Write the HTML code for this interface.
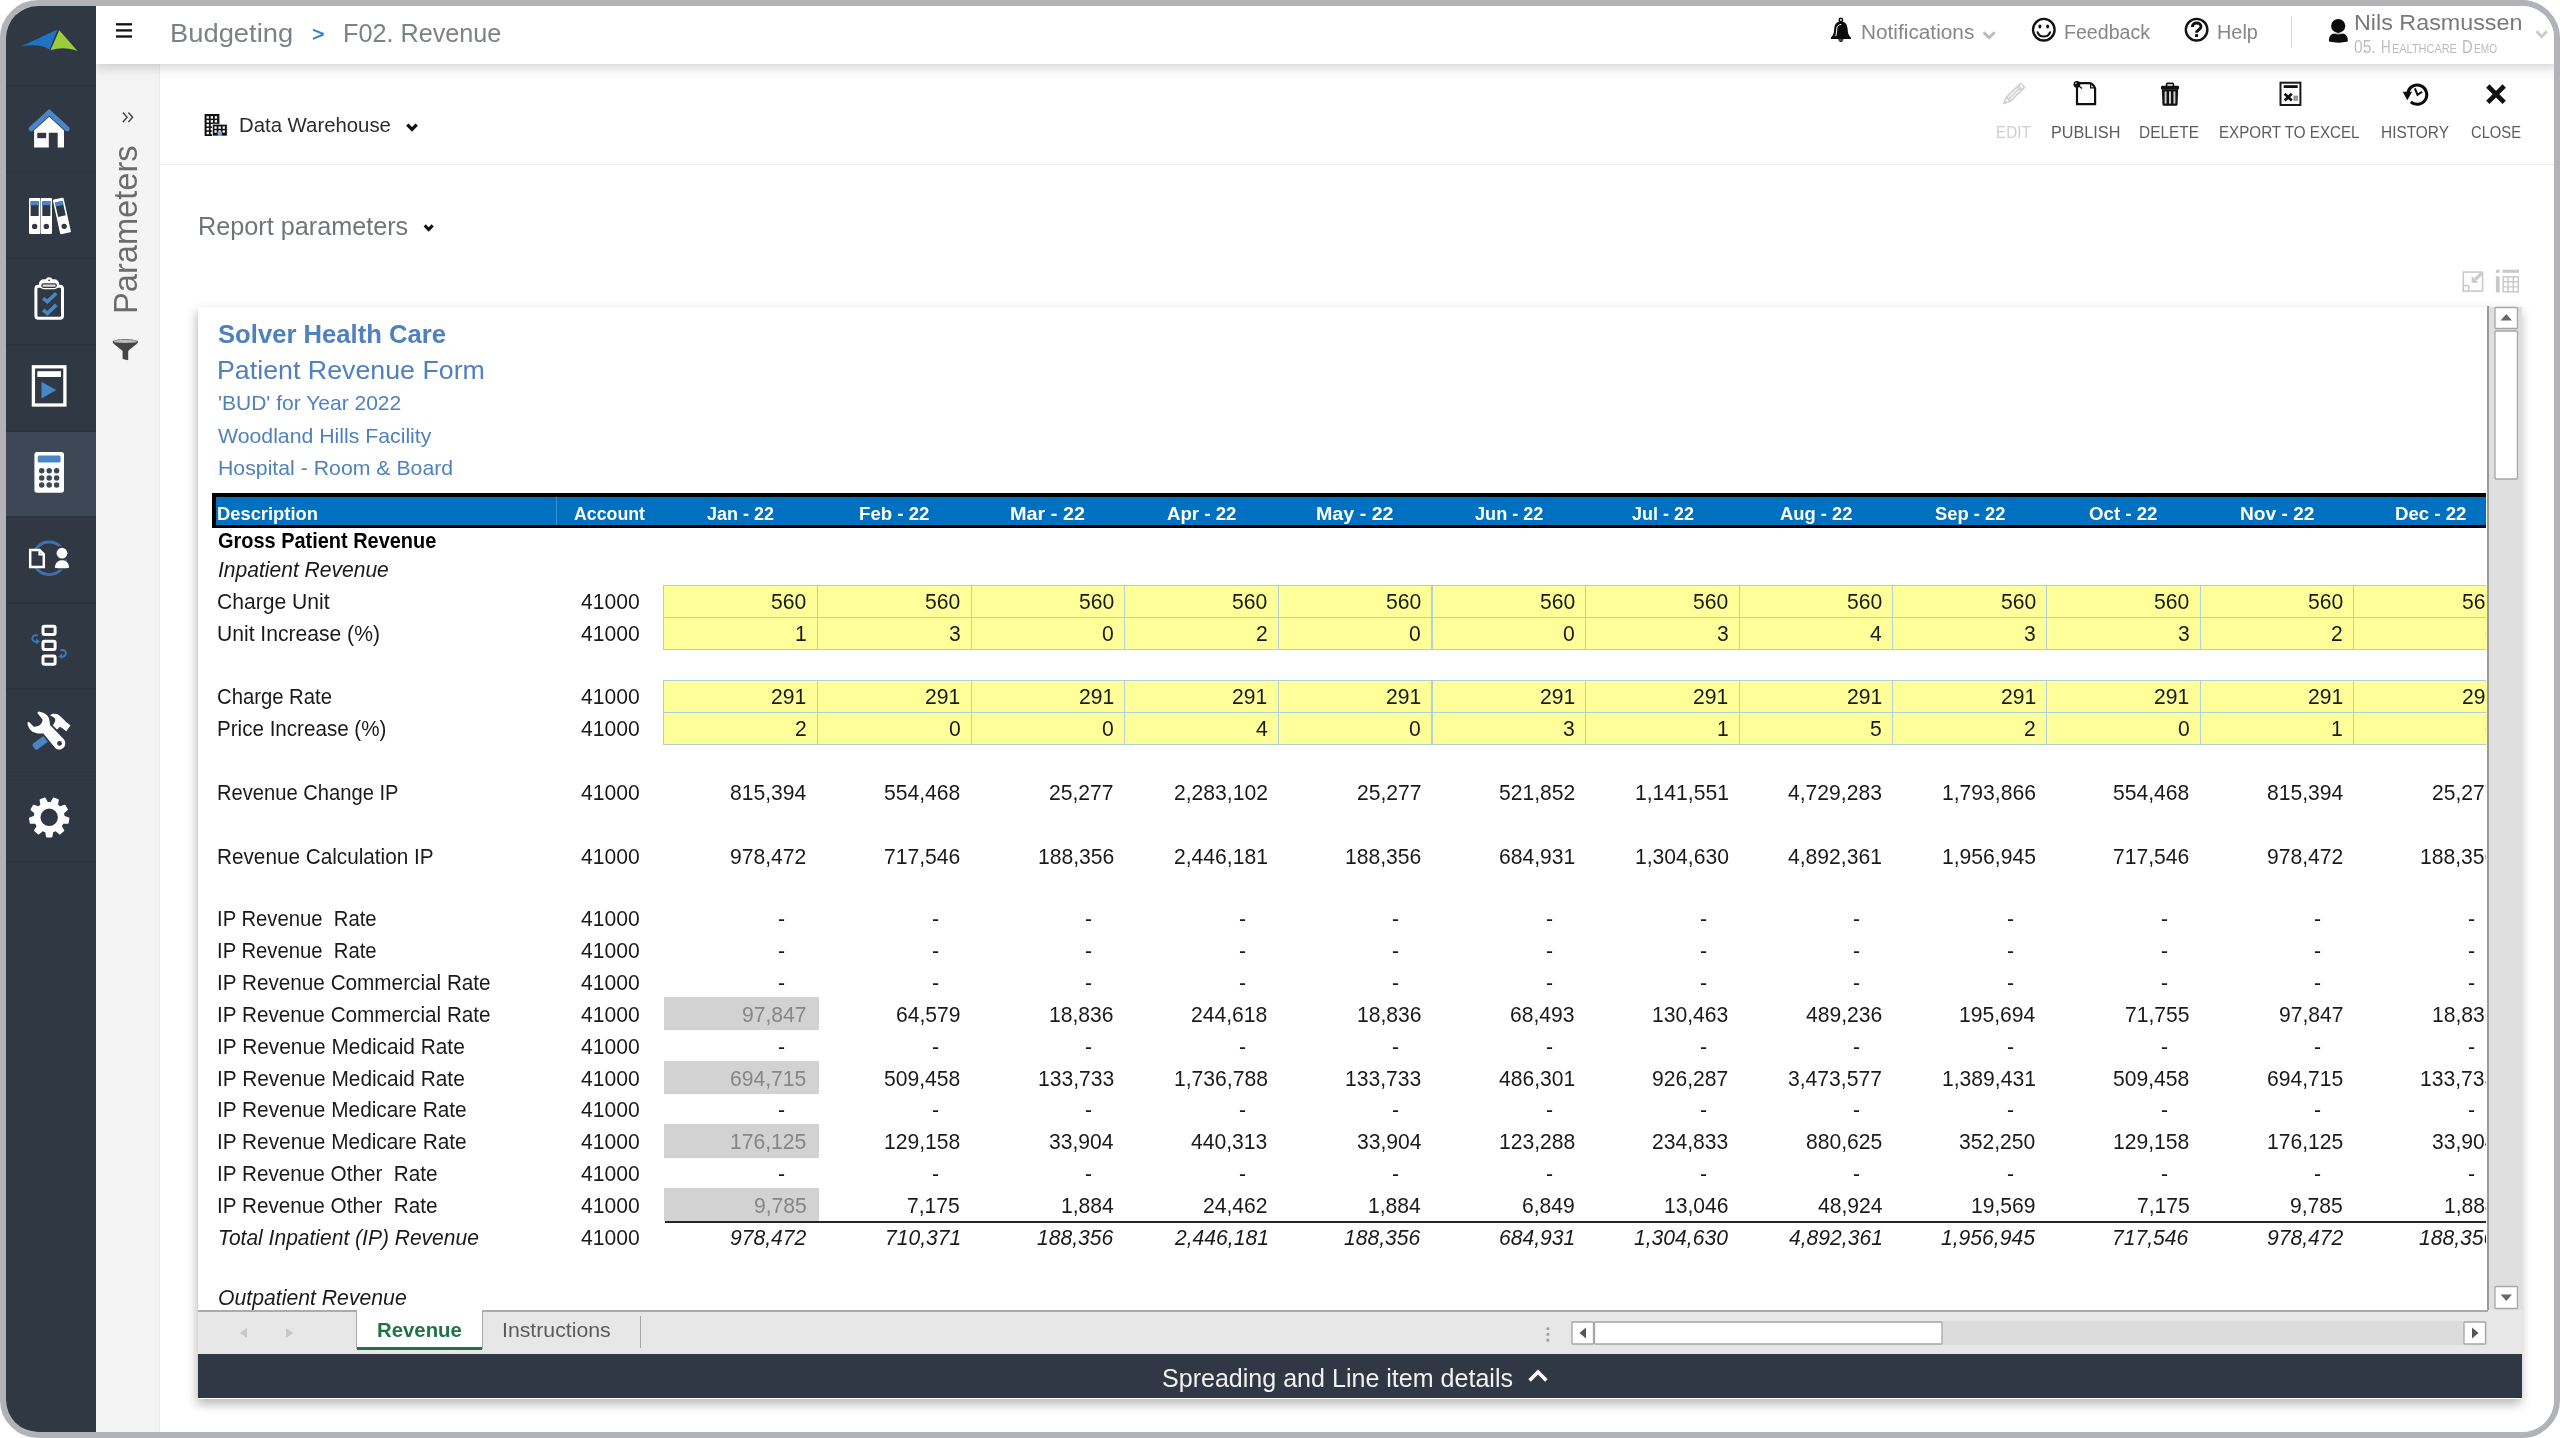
<!DOCTYPE html><html><head><meta charset="utf-8"><title>F02. Revenue</title><style>
html,body{margin:0;padding:0;background:#fff;}
body{width:2560px;height:1438px;overflow:hidden;position:relative;font-family:"Liberation Sans",sans-serif;}
#frame{position:absolute;left:0;top:0;width:2560px;height:1438px;box-sizing:border-box;border:6px solid #b1b3b9;border-radius:38px;overflow:hidden;background:#fff;}
#page{position:absolute;left:-6px;top:-6px;width:2560px;height:1438px;will-change:transform;}
.a{position:absolute;}
.t{position:absolute;white-space:pre;line-height:1;transform-origin:0 50%;font-family:"Liberation Sans",sans-serif;}
svg{position:absolute;overflow:visible;}
#side{left:0;top:0;width:96px;height:1438px;background:#303844;}
.sdiv{left:6px;width:90px;height:2px;background:#2c343f;}
#top{left:96px;top:0;width:2464px;height:64px;background:#fff;box-shadow:0 4px 11px rgba(0,0,0,.17);}
#params{left:96px;top:64px;width:63px;height:1374px;background:#f4f4f4;border-right:1px solid #ebebeb;}
#main{left:160px;top:64px;width:2400px;height:1374px;background:#fff;}
.hl{height:1px;background:#ececec;}
#sheet{left:198px;top:306.5px;width:2323.5px;height:1092px;background:#fff;box-shadow:-1px 5px 10px rgba(0,0,0,.29);}
#grid{left:198px;top:306.5px;width:2288px;height:1003.5px;overflow:hidden;background:#fff;}
#grid .in{position:absolute;left:-198px;top:-306.5px;width:2560px;height:1438px;}
.yc{position:absolute;background:#ffff99;box-sizing:border-box;border:1px solid #b3cfd6;}
.gc{position:absolute;background:#d2d2d2;}
</style></head><body><div id="frame"><div id="page">
<div id="main" class="a"></div>
<div id="params" class="a"></div>
<svg style="left:0;top:0" width="2560" height="1438" viewBox="0 0 2560 1438" ><rect x="204.6" y="114" width="14.8" height="22" fill="#111"/><rect x="206.6" y="116.2" width="2.3" height="2.4" fill="#fff"/><rect x="210.7" y="116.2" width="2.3" height="2.4" fill="#fff"/><rect x="214.8" y="116.2" width="2.3" height="2.4" fill="#fff"/><rect x="206.6" y="120.1" width="2.3" height="2.4" fill="#fff"/><rect x="210.7" y="120.1" width="2.3" height="2.4" fill="#fff"/><rect x="214.8" y="120.1" width="2.3" height="2.4" fill="#fff"/><rect x="206.6" y="124.0" width="2.3" height="2.4" fill="#fff"/><rect x="210.7" y="124.0" width="2.3" height="2.4" fill="#fff"/><rect x="214.8" y="124.0" width="2.3" height="2.4" fill="#fff"/><rect x="206.6" y="127.9" width="2.3" height="2.4" fill="#fff"/><rect x="210.7" y="127.9" width="2.3" height="2.4" fill="#fff"/><rect x="214.8" y="127.9" width="2.3" height="2.4" fill="#fff"/><rect x="206.6" y="131.8" width="2.3" height="2.4" fill="#fff"/><rect x="210.7" y="131.8" width="2.3" height="2.4" fill="#fff"/><rect x="214.8" y="131.8" width="2.3" height="2.4" fill="#fff"/><rect x="212.4" y="124.2" width="14.8" height="11.8" fill="#111" stroke="#fff" stroke-width="0.7"/><rect x="214.4" y="126.4" width="2.3" height="2.4" fill="#fff"/><rect x="218.5" y="126.4" width="2.3" height="2.4" fill="#fff"/><rect x="222.6" y="126.4" width="2.3" height="2.4" fill="#fff"/><rect x="214.4" y="130.3" width="2.3" height="2.4" fill="#fff"/><rect x="218.5" y="130.3" width="2.3" height="2.4" fill="#fff"/><rect x="222.6" y="130.3" width="2.3" height="2.4" fill="#fff"/><rect x="217.6" y="131.4" width="4.2" height="4.6" fill="#7fa8d6"/></svg>
<span class="t" style="left:239.01px;top:115.30px;font-size:20.5px;color:#2b2b2b;transform:scaleX(0.9923);">Data Warehouse</span>
<svg style="left:0;top:0" width="2560" height="1438" viewBox="0 0 2560 1438" ><path d="M407.3 124.7 L412 129.5 L416.7 124.7" fill="none" stroke="#111" stroke-width="3.3" stroke-linejoin="miter"/></svg>
<div class="a hl" style="left:160px;top:164px;width:2394px"></div>
<span class="t" style="left:198.18px;top:213.60px;font-size:25px;color:#70757b;transform:scaleX(1.0086);">Report parameters</span>
<svg style="left:0;top:0" width="2560" height="1438" viewBox="0 0 2560 1438" ><path d="M424.7 225.4 L428.7 229.5 L432.7 225.4" fill="none" stroke="#111" stroke-width="3" stroke-linejoin="miter"/></svg>
<svg style="left:0;top:0" width="2560" height="1438" viewBox="0 0 2560 1438" ><g transform="rotate(46 2013.4 94.3)"><rect x="2010.5" y="81.4" width="5.8" height="3.4" rx="1" fill="none" stroke="#d0d0d0" stroke-width="1.6"/><rect x="2010.5" y="85.8" width="5.8" height="15.4" fill="#f3f3f3" stroke="#d0d0d0" stroke-width="1.6"/><path d="M2013.4 85.8 V101.2" stroke="#d0d0d0" stroke-width="1.3"/><path d="M2010.5 101.2 L2013.4 107.6 L2016.3 101.2Z" fill="none" stroke="#d0d0d0" stroke-width="1.6" stroke-linejoin="round"/><path d="M2012.3 105.4 L2013.4 107.6 L2014.5 105.4Z" fill="#d0d0d0" stroke="#d0d0d0" stroke-width="1"/></g></svg>
<span class="t" style="left:1995.98px;top:124.00px;font-size:16.5px;color:#cfcfcf;transform:scaleX(0.9232);">EDIT</span>
<svg style="left:0;top:0" width="2560" height="1438" viewBox="0 0 2560 1438" ><path d="M2077 83.1 H2089.6 C2091.6 83.1 2095.1 86.6 2095.1 88.6 V104.2 H2077 Z" fill="#fff" stroke="#111" stroke-width="2.2" stroke-linejoin="miter"/><path d="M2090.6 83.6 V87.9 H2094.9" fill="none" stroke="#111" stroke-width="1.3"/><circle cx="2076.9" cy="84.3" r="3.4" fill="#111"/><circle cx="2075.9" cy="83.3" r="1" fill="#999"/><path d="M2077 84.4 L2082 88.6" stroke="#111" stroke-width="1.3"/></svg>
<span class="t" style="left:2051.22px;top:124.00px;font-size:16.5px;color:#5c5c5c;transform:scaleX(0.9826);">PUBLISH</span>
<svg style="left:0;top:0" width="2560" height="1438" viewBox="0 0 2560 1438" ><rect x="2166.6" y="83.4" width="6.8" height="3.4" rx="0.8" fill="none" stroke="#111" stroke-width="1.6"/><rect x="2161" y="85.8" width="18" height="3.6" rx="1.2" fill="#111"/><path d="M2161.9 89.2 H2178.1 L2177.6 104 C2177.6 105.3 2176.8 105.8 2175.6 105.8 H2164.4 C2163.2 105.8 2162.4 105.3 2162.4 104Z" fill="#111"/><rect x="2164.6" y="91.4" width="2" height="12.2" fill="#c9c9c9"/><rect x="2169" y="91.4" width="2" height="12.2" fill="#c9c9c9"/><rect x="2173.4" y="91.4" width="2" height="12.2" fill="#c9c9c9"/></svg>
<span class="t" style="left:2139.36px;top:124.00px;font-size:16.5px;color:#5c5c5c;transform:scaleX(0.9354);">DELETE</span>
<svg style="left:0;top:0" width="2560" height="1438" viewBox="0 0 2560 1438" ><rect x="2280.5" y="82.7" width="19.9" height="22.3" fill="#fff" stroke="#1a1a1a" stroke-width="2"/><rect x="2283.7" y="85.2" width="14" height="2.8" fill="#111"/><path d="M2284.6 93.8 L2291.8 100.6 M2291.8 93.8 L2284.6 100.6" stroke="#111" stroke-width="2.7"/><rect x="2293.6" y="95.7" width="4.2" height="5" fill="#777"/><path d="M2294.6 97 H2296.8 M2294.6 98.3 H2296.8 M2294.6 99.6 H2296.8" stroke="#ddd" stroke-width="0.6"/></svg>
<span class="t" style="left:2219.48px;top:124.00px;font-size:16.5px;color:#5c5c5c;transform:scaleX(0.9195);">EXPORT TO EXCEL</span>
<svg style="left:0;top:0" width="2560" height="1438" viewBox="0 0 2560 1438" ><path d="M2407.97 92.05 A9.6 9.6 0 1 1 2410.78 101.83" fill="none" stroke="#0c0c0c" stroke-width="3"/><path d="M2402.7 91.8 L2412.1 91.8 L2407.3 100.2Z" fill="#0c0c0c"/><path d="M2414.9 88.4 L2417.5 94.9 L2422.1 91.7" fill="none" stroke="#0c0c0c" stroke-width="2"/></svg>
<span class="t" style="left:2381.07px;top:124.00px;font-size:16.5px;color:#5c5c5c;transform:scaleX(0.9340);">HISTORY</span>
<svg style="left:0;top:0" width="2560" height="1438" viewBox="0 0 2560 1438" ><path d="M2487.8 86 L2504.2 102.4 M2504.2 86 L2487.8 102.4" stroke="#111" stroke-width="4.6"/></svg>
<span class="t" style="left:2470.70px;top:124.00px;font-size:16.5px;color:#5c5c5c;transform:scaleX(0.8939);">CLOSE</span>
<svg style="left:0;top:0" width="2560" height="1438" viewBox="0 0 2560 1438" ><rect x="2463.3" y="272.1" width="19.3" height="19" fill="none" stroke="#cbcbcb" stroke-width="1.6"/><rect x="2463.3" y="285.6" width="5.4" height="5.5" fill="#fff" stroke="#cbcbcb" stroke-width="1.5"/><path d="M2482 273 L2475.4 279.4" stroke="#cbcbcb" stroke-width="3.4"/><path d="M2471.6 275.8 V282.8 H2478.6Z" fill="#cbcbcb"/></svg>
<svg style="left:0;top:0" width="2560" height="1438" viewBox="0 0 2560 1438" ><rect x="2495.9" y="269.7" width="3.8" height="3.1" fill="#c9c9c9"/><rect x="2502.5" y="269.7" width="16.5" height="3.1" fill="#c9c9c9"/><rect x="2495.9" y="276.2" width="3.8" height="16.3" fill="#c9c9c9"/><rect x="2503.2" y="276.9" width="15.1" height="14.9" fill="none" stroke="#c9c9c9" stroke-width="1.5"/><path d="M2508.1 276.9 V291.8 M2513.3 276.9 V291.8 M2503.2 281.8 H2518.3 M2503.2 286.9 H2518.3" stroke="#c9c9c9" stroke-width="1.4" fill="none"/></svg>
<div id="sheet" class="a"></div>
<div class="a" style="left:2487px;top:306.5px;width:34.5px;height:1004px;background:#dfdfdf;"></div>
<div class="a" style="left:2487px;top:306px;width:2px;height:1005px;background:#9b9b9b;"></div>
<div class="a" style="left:198px;top:1310px;width:2323.5px;height:44px;background:#e7e7e7;"></div>
<div class="a" style="left:198px;top:1310px;width:2290px;height:2px;background:#ababab;"></div>
<div class="a" style="left:198px;top:1354px;width:2324px;height:44px;background:#303845;"></div>
<span class="t" style="left:1161.90px;top:1366.00px;font-size:25px;color:#f1f1f1;transform:scaleX(1.0022);">Spreading and Line item details</span>
<svg style="left:0;top:0" width="2560" height="1438" viewBox="0 0 2560 1438" ><path d="M1529.6 1380.4 L1538 1372 L1546.4 1380.4" fill="none" stroke="#fff" stroke-width="3.6"/></svg>
<div class="a" style="left:357px;top:1310px;width:125px;height:37px;background:#fff;"></div>
<div class="a" style="left:357px;top:1347px;width:125px;height:3px;background:#217346;"></div>
<div class="a" style="left:356px;top:1311px;width:1px;height:38px;background:#ababab;"></div>
<div class="a" style="left:482px;top:1311px;width:1px;height:38px;background:#ababab;"></div>
<span class="t" style="left:377.28px;top:1320.00px;font-size:20px;color:#217346;font-weight:700;transform:scaleX(1.0177);">Revenue</span>
<span class="t" style="left:501.74px;top:1320.00px;font-size:20px;color:#5a5a5a;transform:scaleX(1.0626);">Instructions</span>
<div class="a" style="left:640px;top:1316px;width:1px;height:32px;background:#a5a5a5;"></div>
<div class="a" style="left:2486px;top:585px;width:1.2px;height:64.5px;background:#ffff99;"></div>
<div class="a" style="left:2486px;top:680.5px;width:1.2px;height:64px;background:#ffff99;"></div>
<svg style="left:0;top:0" width="2560" height="1438" viewBox="0 0 2560 1438" ><path d="M247 1328 V1338 L240 1333Z" fill="#c6c6c6"/><path d="M286 1328 V1338 L293 1333Z" fill="#c6c6c6"/></svg>
<svg style="left:0;top:0" width="2560" height="1438" viewBox="0 0 2560 1438" ><rect x="1571" y="1321" width="916" height="24" fill="#dcdcdc"/><rect x="1572.0" y="1322.0" width="21.5" height="22" rx="1" fill="#fff" stroke="#a6a6a6" stroke-width="1.3"/><path d="M1586 1327.5 V1338.5 L1579.5 1333Z" fill="#555"/><rect x="1594.5" y="1322.0" width="347.5" height="22" rx="1" fill="#fff" stroke="#a6a6a6" stroke-width="1.3"/><rect x="2464.0" y="1322.0" width="21.5" height="22" rx="1" fill="#fff" stroke="#a6a6a6" stroke-width="1.3"/><path d="M2472 1327.5 V1338.5 L2478.5 1333Z" fill="#555"/><rect x="1546.6" y="1327.4" width="2.6" height="2.6" fill="#9a9a9a"/><rect x="1546.6" y="1333.1" width="2.6" height="2.6" fill="#9a9a9a"/><rect x="1546.6" y="1338.8" width="2.6" height="2.6" fill="#9a9a9a"/></svg>
<svg style="left:0;top:0" width="2560" height="1438" viewBox="0 0 2560 1438" ><rect x="2495.0" y="307.5" width="22.5" height="21" rx="1" fill="#fff" stroke="#a6a6a6" stroke-width="1.3"/><path d="M2500.6 320.6 H2512 L2506.3 314Z" fill="#666"/><rect x="2495.0" y="331.0" width="22.5" height="148" rx="1" fill="#fff" stroke="#a6a6a6" stroke-width="1.3"/><rect x="2495.0" y="1286.5" width="22.5" height="22" rx="1" fill="#fff" stroke="#a6a6a6" stroke-width="1.3"/><path d="M2500.6 1294.4 H2512 L2506.3 1301Z" fill="#666"/></svg>
<div id="grid" class="a"><div class="in"><span class="t" style="left:217.80px;top:322.00px;font-size:25.8px;color:#4f81bd;font-weight:700;transform:scaleX(0.9937);">Solver Health Care</span>
<span class="t" style="left:217.17px;top:358.00px;font-size:25.2px;color:#4f81bd;transform:scaleX(1.0630);">Patient Revenue Form</span>
<span class="t" style="left:217.66px;top:393.20px;font-size:20.2px;color:#4f81bd;transform:scaleX(1.0406);">&#x27;BUD&#x27; for Year 2022</span>
<span class="t" style="left:218.10px;top:425.80px;font-size:20.2px;color:#4f81bd;transform:scaleX(1.0526);">Woodland Hills Facility</span>
<span class="t" style="left:217.75px;top:458.10px;font-size:20.2px;color:#4f81bd;transform:scaleX(1.0532);">Hospital - Room &amp; Board</span>
<div class="a" style="left:212px;top:493px;width:2300px;height:35px;background:#000;"></div>
<div class="a" style="left:216px;top:496.5px;width:2300px;height:28.5px;background:#0070c0;"></div>
<div class="a" style="left:556px;top:496.5px;width:1px;height:28.5px;background:#3d8fd0;"></div>
<span class="t" style="left:217.42px;top:505.20px;font-size:18.8px;color:#fff;font-weight:700;transform:scaleX(0.9770);">Description</span>
<span class="t" style="left:573.85px;top:505.20px;font-size:18.8px;color:#fff;font-weight:700;transform:scaleX(0.9450);">Account</span>
<span class="t" style="left:707.33px;top:505.20px;font-size:18.8px;color:#fff;font-weight:700;transform:scaleX(0.9569);">Jan - 22</span>
<span class="t" style="left:858.73px;top:505.20px;font-size:18.8px;color:#fff;font-weight:700;transform:scaleX(0.9924);">Feb - 22</span>
<span class="t" style="left:1010.07px;top:505.20px;font-size:18.8px;color:#fff;font-weight:700;transform:scaleX(1.0570);">Mar - 22</span>
<span class="t" style="left:1167.03px;top:505.20px;font-size:18.8px;color:#fff;font-weight:700;transform:scaleX(0.9931);">Apr - 22</span>
<span class="t" style="left:1316.13px;top:505.20px;font-size:18.8px;color:#fff;font-weight:700;transform:scaleX(1.0458);">May - 22</span>
<span class="t" style="left:1474.83px;top:505.20px;font-size:18.8px;color:#fff;font-weight:700;transform:scaleX(0.9642);">Jun - 22</span>
<span class="t" style="left:1631.73px;top:505.20px;font-size:18.8px;color:#fff;font-weight:700;transform:scaleX(0.9569);">Jul - 22</span>
<span class="t" style="left:1780.12px;top:505.20px;font-size:18.8px;color:#fff;font-weight:700;transform:scaleX(0.9777);">Aug - 22</span>
<span class="t" style="left:1934.78px;top:505.20px;font-size:18.8px;color:#fff;font-weight:700;transform:scaleX(0.9779);">Sep - 22</span>
<span class="t" style="left:2089.43px;top:505.20px;font-size:18.8px;color:#fff;font-weight:700;transform:scaleX(0.9935);">Oct - 22</span>
<span class="t" style="left:2239.56px;top:505.20px;font-size:18.8px;color:#fff;font-weight:700;transform:scaleX(1.0193);">Nov - 22</span>
<span class="t" style="left:2394.73px;top:505.20px;font-size:18.8px;color:#fff;font-weight:700;transform:scaleX(0.9917);">Dec - 22</span>
<span class="t" style="left:217.80px;top:530.00px;font-size:22px;color:#000;font-weight:700;transform:scaleX(0.9064);">Gross Patient Revenue</span>
<span class="t" style="left:218.40px;top:559.40px;font-size:22px;color:#1a1a1a;font-style:italic;transform:scaleX(0.9566);">Inpatient Revenue</span>
<div class="yc" style="left:663.25px;top:584.5px;width:154.65px;height:33.5px"></div>
<div class="yc" style="left:816.90px;top:584.5px;width:154.65px;height:33.5px"></div>
<div class="yc" style="left:970.55px;top:584.5px;width:154.65px;height:33.5px"></div>
<div class="yc" style="left:1124.20px;top:584.5px;width:154.65px;height:33.5px"></div>
<div class="yc" style="left:1277.85px;top:584.5px;width:154.65px;height:33.5px"></div>
<div class="yc" style="left:1431.50px;top:584.5px;width:154.65px;height:33.5px"></div>
<div class="yc" style="left:1585.15px;top:584.5px;width:154.65px;height:33.5px"></div>
<div class="yc" style="left:1738.80px;top:584.5px;width:154.65px;height:33.5px"></div>
<div class="yc" style="left:1892.45px;top:584.5px;width:154.65px;height:33.5px"></div>
<div class="yc" style="left:2046.10px;top:584.5px;width:154.65px;height:33.5px"></div>
<div class="yc" style="left:2199.75px;top:584.5px;width:154.65px;height:33.5px"></div>
<div class="yc" style="left:2353.40px;top:584.5px;width:154.65px;height:33.5px"></div>
<span class="t" style="left:216.84px;top:591.20px;font-size:22px;color:#1a1a1a;transform:scaleX(0.9598);">Charge Unit</span>
<span class="t" style="left:580.75px;top:591.20px;font-size:22px;color:#1a1a1a;transform:scaleX(0.9600);">41000</span>
<span class="t" style="left:771.39px;top:591.20px;font-size:22px;color:#1a1a1a;transform:scaleX(0.9600);">560</span>
<span class="t" style="left:925.04px;top:591.20px;font-size:22px;color:#1a1a1a;transform:scaleX(0.9600);">560</span>
<span class="t" style="left:1078.69px;top:591.20px;font-size:22px;color:#1a1a1a;transform:scaleX(0.9600);">560</span>
<span class="t" style="left:1232.34px;top:591.20px;font-size:22px;color:#1a1a1a;transform:scaleX(0.9600);">560</span>
<span class="t" style="left:1385.99px;top:591.20px;font-size:22px;color:#1a1a1a;transform:scaleX(0.9600);">560</span>
<span class="t" style="left:1539.64px;top:591.20px;font-size:22px;color:#1a1a1a;transform:scaleX(0.9600);">560</span>
<span class="t" style="left:1693.29px;top:591.20px;font-size:22px;color:#1a1a1a;transform:scaleX(0.9600);">560</span>
<span class="t" style="left:1846.94px;top:591.20px;font-size:22px;color:#1a1a1a;transform:scaleX(0.9600);">560</span>
<span class="t" style="left:2000.59px;top:591.20px;font-size:22px;color:#1a1a1a;transform:scaleX(0.9600);">560</span>
<span class="t" style="left:2154.24px;top:591.20px;font-size:22px;color:#1a1a1a;transform:scaleX(0.9600);">560</span>
<span class="t" style="left:2307.89px;top:591.20px;font-size:22px;color:#1a1a1a;transform:scaleX(0.9600);">560</span>
<span class="t" style="left:2461.54px;top:591.20px;font-size:22px;color:#1a1a1a;transform:scaleX(0.9600);">560</span>
<div class="yc" style="left:663.25px;top:616.5px;width:154.65px;height:33.5px"></div>
<div class="yc" style="left:816.90px;top:616.5px;width:154.65px;height:33.5px"></div>
<div class="yc" style="left:970.55px;top:616.5px;width:154.65px;height:33.5px"></div>
<div class="yc" style="left:1124.20px;top:616.5px;width:154.65px;height:33.5px"></div>
<div class="yc" style="left:1277.85px;top:616.5px;width:154.65px;height:33.5px"></div>
<div class="yc" style="left:1431.50px;top:616.5px;width:154.65px;height:33.5px"></div>
<div class="yc" style="left:1585.15px;top:616.5px;width:154.65px;height:33.5px"></div>
<div class="yc" style="left:1738.80px;top:616.5px;width:154.65px;height:33.5px"></div>
<div class="yc" style="left:1892.45px;top:616.5px;width:154.65px;height:33.5px"></div>
<div class="yc" style="left:2046.10px;top:616.5px;width:154.65px;height:33.5px"></div>
<div class="yc" style="left:2199.75px;top:616.5px;width:154.65px;height:33.5px"></div>
<div class="yc" style="left:2353.40px;top:616.5px;width:154.65px;height:33.5px"></div>
<span class="t" style="left:217.44px;top:623.20px;font-size:22px;color:#1a1a1a;transform:scaleX(0.9587);">Unit Increase (%)</span>
<span class="t" style="left:580.75px;top:623.20px;font-size:22px;color:#1a1a1a;transform:scaleX(0.9600);">41000</span>
<span class="t" style="left:794.88px;top:623.20px;font-size:22px;color:#1a1a1a;transform:scaleX(0.9600);">1</span>
<span class="t" style="left:948.53px;top:623.20px;font-size:22px;color:#1a1a1a;transform:scaleX(0.9600);">3</span>
<span class="t" style="left:1102.18px;top:623.20px;font-size:22px;color:#1a1a1a;transform:scaleX(0.9600);">0</span>
<span class="t" style="left:1255.83px;top:623.20px;font-size:22px;color:#1a1a1a;transform:scaleX(0.9600);">2</span>
<span class="t" style="left:1409.48px;top:623.20px;font-size:22px;color:#1a1a1a;transform:scaleX(0.9600);">0</span>
<span class="t" style="left:1563.13px;top:623.20px;font-size:22px;color:#1a1a1a;transform:scaleX(0.9600);">0</span>
<span class="t" style="left:1716.78px;top:623.20px;font-size:22px;color:#1a1a1a;transform:scaleX(0.9600);">3</span>
<span class="t" style="left:1870.43px;top:623.20px;font-size:22px;color:#1a1a1a;transform:scaleX(0.9600);">4</span>
<span class="t" style="left:2024.08px;top:623.20px;font-size:22px;color:#1a1a1a;transform:scaleX(0.9600);">3</span>
<span class="t" style="left:2177.73px;top:623.20px;font-size:22px;color:#1a1a1a;transform:scaleX(0.9600);">3</span>
<span class="t" style="left:2331.38px;top:623.20px;font-size:22px;color:#1a1a1a;transform:scaleX(0.9600);">2</span>
<span class="t" style="left:2485.03px;top:623.20px;font-size:22px;color:#1a1a1a;transform:scaleX(0.9600);">0</span>
<div class="yc" style="left:663.25px;top:679.6px;width:154.65px;height:33.5px"></div>
<div class="yc" style="left:816.90px;top:679.6px;width:154.65px;height:33.5px"></div>
<div class="yc" style="left:970.55px;top:679.6px;width:154.65px;height:33.5px"></div>
<div class="yc" style="left:1124.20px;top:679.6px;width:154.65px;height:33.5px"></div>
<div class="yc" style="left:1277.85px;top:679.6px;width:154.65px;height:33.5px"></div>
<div class="yc" style="left:1431.50px;top:679.6px;width:154.65px;height:33.5px"></div>
<div class="yc" style="left:1585.15px;top:679.6px;width:154.65px;height:33.5px"></div>
<div class="yc" style="left:1738.80px;top:679.6px;width:154.65px;height:33.5px"></div>
<div class="yc" style="left:1892.45px;top:679.6px;width:154.65px;height:33.5px"></div>
<div class="yc" style="left:2046.10px;top:679.6px;width:154.65px;height:33.5px"></div>
<div class="yc" style="left:2199.75px;top:679.6px;width:154.65px;height:33.5px"></div>
<div class="yc" style="left:2353.40px;top:679.6px;width:154.65px;height:33.5px"></div>
<span class="t" style="left:216.88px;top:686.30px;font-size:22px;color:#1a1a1a;transform:scaleX(0.9214);">Charge Rate</span>
<span class="t" style="left:580.75px;top:686.30px;font-size:22px;color:#1a1a1a;transform:scaleX(0.9600);">41000</span>
<span class="t" style="left:771.39px;top:686.30px;font-size:22px;color:#1a1a1a;transform:scaleX(0.9600);">291</span>
<span class="t" style="left:925.04px;top:686.30px;font-size:22px;color:#1a1a1a;transform:scaleX(0.9600);">291</span>
<span class="t" style="left:1078.69px;top:686.30px;font-size:22px;color:#1a1a1a;transform:scaleX(0.9600);">291</span>
<span class="t" style="left:1232.34px;top:686.30px;font-size:22px;color:#1a1a1a;transform:scaleX(0.9600);">291</span>
<span class="t" style="left:1385.99px;top:686.30px;font-size:22px;color:#1a1a1a;transform:scaleX(0.9600);">291</span>
<span class="t" style="left:1539.64px;top:686.30px;font-size:22px;color:#1a1a1a;transform:scaleX(0.9600);">291</span>
<span class="t" style="left:1693.29px;top:686.30px;font-size:22px;color:#1a1a1a;transform:scaleX(0.9600);">291</span>
<span class="t" style="left:1846.94px;top:686.30px;font-size:22px;color:#1a1a1a;transform:scaleX(0.9600);">291</span>
<span class="t" style="left:2000.59px;top:686.30px;font-size:22px;color:#1a1a1a;transform:scaleX(0.9600);">291</span>
<span class="t" style="left:2154.24px;top:686.30px;font-size:22px;color:#1a1a1a;transform:scaleX(0.9600);">291</span>
<span class="t" style="left:2307.89px;top:686.30px;font-size:22px;color:#1a1a1a;transform:scaleX(0.9600);">291</span>
<span class="t" style="left:2461.54px;top:686.30px;font-size:22px;color:#1a1a1a;transform:scaleX(0.9600);">291</span>
<div class="yc" style="left:663.25px;top:711.5px;width:154.65px;height:33.5px"></div>
<div class="yc" style="left:816.90px;top:711.5px;width:154.65px;height:33.5px"></div>
<div class="yc" style="left:970.55px;top:711.5px;width:154.65px;height:33.5px"></div>
<div class="yc" style="left:1124.20px;top:711.5px;width:154.65px;height:33.5px"></div>
<div class="yc" style="left:1277.85px;top:711.5px;width:154.65px;height:33.5px"></div>
<div class="yc" style="left:1431.50px;top:711.5px;width:154.65px;height:33.5px"></div>
<div class="yc" style="left:1585.15px;top:711.5px;width:154.65px;height:33.5px"></div>
<div class="yc" style="left:1738.80px;top:711.5px;width:154.65px;height:33.5px"></div>
<div class="yc" style="left:1892.45px;top:711.5px;width:154.65px;height:33.5px"></div>
<div class="yc" style="left:2046.10px;top:711.5px;width:154.65px;height:33.5px"></div>
<div class="yc" style="left:2199.75px;top:711.5px;width:154.65px;height:33.5px"></div>
<div class="yc" style="left:2353.40px;top:711.5px;width:154.65px;height:33.5px"></div>
<span class="t" style="left:217.46px;top:718.20px;font-size:22px;color:#1a1a1a;transform:scaleX(0.9361);">Price Increase (%)</span>
<span class="t" style="left:580.75px;top:718.20px;font-size:22px;color:#1a1a1a;transform:scaleX(0.9600);">41000</span>
<span class="t" style="left:794.88px;top:718.20px;font-size:22px;color:#1a1a1a;transform:scaleX(0.9600);">2</span>
<span class="t" style="left:948.53px;top:718.20px;font-size:22px;color:#1a1a1a;transform:scaleX(0.9600);">0</span>
<span class="t" style="left:1102.18px;top:718.20px;font-size:22px;color:#1a1a1a;transform:scaleX(0.9600);">0</span>
<span class="t" style="left:1255.83px;top:718.20px;font-size:22px;color:#1a1a1a;transform:scaleX(0.9600);">4</span>
<span class="t" style="left:1409.48px;top:718.20px;font-size:22px;color:#1a1a1a;transform:scaleX(0.9600);">0</span>
<span class="t" style="left:1563.13px;top:718.20px;font-size:22px;color:#1a1a1a;transform:scaleX(0.9600);">3</span>
<span class="t" style="left:1716.78px;top:718.20px;font-size:22px;color:#1a1a1a;transform:scaleX(0.9600);">1</span>
<span class="t" style="left:1870.43px;top:718.20px;font-size:22px;color:#1a1a1a;transform:scaleX(0.9600);">5</span>
<span class="t" style="left:2024.08px;top:718.20px;font-size:22px;color:#1a1a1a;transform:scaleX(0.9600);">2</span>
<span class="t" style="left:2177.73px;top:718.20px;font-size:22px;color:#1a1a1a;transform:scaleX(0.9600);">0</span>
<span class="t" style="left:2331.38px;top:718.20px;font-size:22px;color:#1a1a1a;transform:scaleX(0.9600);">1</span>
<span class="t" style="left:2485.03px;top:718.20px;font-size:22px;color:#1a1a1a;transform:scaleX(0.9600);">0</span>
<span class="t" style="left:217.48px;top:782.20px;font-size:22px;color:#1a1a1a;transform:scaleX(0.9162);">Revenue Change IP</span>
<span class="t" style="left:580.75px;top:782.20px;font-size:22px;color:#1a1a1a;transform:scaleX(0.9600);">41000</span>
<span class="t" style="left:730.28px;top:782.20px;font-size:22px;color:#1a1a1a;transform:scaleX(0.9600);">815,394</span>
<span class="t" style="left:883.93px;top:782.20px;font-size:22px;color:#1a1a1a;transform:scaleX(0.9600);">554,468</span>
<span class="t" style="left:1049.33px;top:782.20px;font-size:22px;color:#1a1a1a;transform:scaleX(0.9600);">25,277</span>
<span class="t" style="left:1173.62px;top:782.20px;font-size:22px;color:#1a1a1a;transform:scaleX(0.9600);">2,283,102</span>
<span class="t" style="left:1356.63px;top:782.20px;font-size:22px;color:#1a1a1a;transform:scaleX(0.9600);">25,277</span>
<span class="t" style="left:1498.53px;top:782.20px;font-size:22px;color:#1a1a1a;transform:scaleX(0.9600);">521,852</span>
<span class="t" style="left:1634.57px;top:782.20px;font-size:22px;color:#1a1a1a;transform:scaleX(0.9600);">1,141,551</span>
<span class="t" style="left:1788.22px;top:782.20px;font-size:22px;color:#1a1a1a;transform:scaleX(0.9600);">4,729,283</span>
<span class="t" style="left:1941.87px;top:782.20px;font-size:22px;color:#1a1a1a;transform:scaleX(0.9600);">1,793,866</span>
<span class="t" style="left:2113.13px;top:782.20px;font-size:22px;color:#1a1a1a;transform:scaleX(0.9600);">554,468</span>
<span class="t" style="left:2266.78px;top:782.20px;font-size:22px;color:#1a1a1a;transform:scaleX(0.9600);">815,394</span>
<span class="t" style="left:2432.18px;top:782.20px;font-size:22px;color:#1a1a1a;transform:scaleX(0.9600);">25,277</span>
<span class="t" style="left:217.46px;top:846.20px;font-size:22px;color:#1a1a1a;transform:scaleX(0.9420);">Revenue Calculation IP</span>
<span class="t" style="left:580.75px;top:846.20px;font-size:22px;color:#1a1a1a;transform:scaleX(0.9600);">41000</span>
<span class="t" style="left:730.28px;top:846.20px;font-size:22px;color:#1a1a1a;transform:scaleX(0.9600);">978,472</span>
<span class="t" style="left:883.93px;top:846.20px;font-size:22px;color:#1a1a1a;transform:scaleX(0.9600);">717,546</span>
<span class="t" style="left:1037.58px;top:846.20px;font-size:22px;color:#1a1a1a;transform:scaleX(0.9600);">188,356</span>
<span class="t" style="left:1173.62px;top:846.20px;font-size:22px;color:#1a1a1a;transform:scaleX(0.9600);">2,446,181</span>
<span class="t" style="left:1344.88px;top:846.20px;font-size:22px;color:#1a1a1a;transform:scaleX(0.9600);">188,356</span>
<span class="t" style="left:1498.53px;top:846.20px;font-size:22px;color:#1a1a1a;transform:scaleX(0.9600);">684,931</span>
<span class="t" style="left:1634.57px;top:846.20px;font-size:22px;color:#1a1a1a;transform:scaleX(0.9600);">1,304,630</span>
<span class="t" style="left:1788.22px;top:846.20px;font-size:22px;color:#1a1a1a;transform:scaleX(0.9600);">4,892,361</span>
<span class="t" style="left:1941.87px;top:846.20px;font-size:22px;color:#1a1a1a;transform:scaleX(0.9600);">1,956,945</span>
<span class="t" style="left:2113.13px;top:846.20px;font-size:22px;color:#1a1a1a;transform:scaleX(0.9600);">717,546</span>
<span class="t" style="left:2266.78px;top:846.20px;font-size:22px;color:#1a1a1a;transform:scaleX(0.9600);">978,472</span>
<span class="t" style="left:2420.43px;top:846.20px;font-size:22px;color:#1a1a1a;transform:scaleX(0.9600);">188,356</span>
<span class="t" style="left:216.56px;top:908.10px;font-size:22px;color:#1a1a1a;transform:scaleX(0.9211);">IP Revenue  Rate</span>
<span class="t" style="left:580.75px;top:908.10px;font-size:22px;color:#1a1a1a;transform:scaleX(0.9600);">41000</span>
<span class="t" style="left:777.89px;top:908.10px;font-size:22px;color:#1a1a1a;transform:scaleX(0.9600);">-</span>
<span class="t" style="left:931.54px;top:908.10px;font-size:22px;color:#1a1a1a;transform:scaleX(0.9600);">-</span>
<span class="t" style="left:1085.19px;top:908.10px;font-size:22px;color:#1a1a1a;transform:scaleX(0.9600);">-</span>
<span class="t" style="left:1238.84px;top:908.10px;font-size:22px;color:#1a1a1a;transform:scaleX(0.9600);">-</span>
<span class="t" style="left:1392.49px;top:908.10px;font-size:22px;color:#1a1a1a;transform:scaleX(0.9600);">-</span>
<span class="t" style="left:1546.14px;top:908.10px;font-size:22px;color:#1a1a1a;transform:scaleX(0.9600);">-</span>
<span class="t" style="left:1699.79px;top:908.10px;font-size:22px;color:#1a1a1a;transform:scaleX(0.9600);">-</span>
<span class="t" style="left:1853.44px;top:908.10px;font-size:22px;color:#1a1a1a;transform:scaleX(0.9600);">-</span>
<span class="t" style="left:2007.09px;top:908.10px;font-size:22px;color:#1a1a1a;transform:scaleX(0.9600);">-</span>
<span class="t" style="left:2160.74px;top:908.10px;font-size:22px;color:#1a1a1a;transform:scaleX(0.9600);">-</span>
<span class="t" style="left:2314.39px;top:908.10px;font-size:22px;color:#1a1a1a;transform:scaleX(0.9600);">-</span>
<span class="t" style="left:2468.04px;top:908.10px;font-size:22px;color:#1a1a1a;transform:scaleX(0.9600);">-</span>
<span class="t" style="left:216.56px;top:940.00px;font-size:22px;color:#1a1a1a;transform:scaleX(0.9211);">IP Revenue  Rate</span>
<span class="t" style="left:580.75px;top:940.00px;font-size:22px;color:#1a1a1a;transform:scaleX(0.9600);">41000</span>
<span class="t" style="left:777.89px;top:940.00px;font-size:22px;color:#1a1a1a;transform:scaleX(0.9600);">-</span>
<span class="t" style="left:931.54px;top:940.00px;font-size:22px;color:#1a1a1a;transform:scaleX(0.9600);">-</span>
<span class="t" style="left:1085.19px;top:940.00px;font-size:22px;color:#1a1a1a;transform:scaleX(0.9600);">-</span>
<span class="t" style="left:1238.84px;top:940.00px;font-size:22px;color:#1a1a1a;transform:scaleX(0.9600);">-</span>
<span class="t" style="left:1392.49px;top:940.00px;font-size:22px;color:#1a1a1a;transform:scaleX(0.9600);">-</span>
<span class="t" style="left:1546.14px;top:940.00px;font-size:22px;color:#1a1a1a;transform:scaleX(0.9600);">-</span>
<span class="t" style="left:1699.79px;top:940.00px;font-size:22px;color:#1a1a1a;transform:scaleX(0.9600);">-</span>
<span class="t" style="left:1853.44px;top:940.00px;font-size:22px;color:#1a1a1a;transform:scaleX(0.9600);">-</span>
<span class="t" style="left:2007.09px;top:940.00px;font-size:22px;color:#1a1a1a;transform:scaleX(0.9600);">-</span>
<span class="t" style="left:2160.74px;top:940.00px;font-size:22px;color:#1a1a1a;transform:scaleX(0.9600);">-</span>
<span class="t" style="left:2314.39px;top:940.00px;font-size:22px;color:#1a1a1a;transform:scaleX(0.9600);">-</span>
<span class="t" style="left:2468.04px;top:940.00px;font-size:22px;color:#1a1a1a;transform:scaleX(0.9600);">-</span>
<span class="t" style="left:216.52px;top:971.90px;font-size:22px;color:#1a1a1a;transform:scaleX(0.9416);">IP Revenue Commercial Rate</span>
<span class="t" style="left:580.75px;top:971.90px;font-size:22px;color:#1a1a1a;transform:scaleX(0.9600);">41000</span>
<span class="t" style="left:777.89px;top:971.90px;font-size:22px;color:#1a1a1a;transform:scaleX(0.9600);">-</span>
<span class="t" style="left:931.54px;top:971.90px;font-size:22px;color:#1a1a1a;transform:scaleX(0.9600);">-</span>
<span class="t" style="left:1085.19px;top:971.90px;font-size:22px;color:#1a1a1a;transform:scaleX(0.9600);">-</span>
<span class="t" style="left:1238.84px;top:971.90px;font-size:22px;color:#1a1a1a;transform:scaleX(0.9600);">-</span>
<span class="t" style="left:1392.49px;top:971.90px;font-size:22px;color:#1a1a1a;transform:scaleX(0.9600);">-</span>
<span class="t" style="left:1546.14px;top:971.90px;font-size:22px;color:#1a1a1a;transform:scaleX(0.9600);">-</span>
<span class="t" style="left:1699.79px;top:971.90px;font-size:22px;color:#1a1a1a;transform:scaleX(0.9600);">-</span>
<span class="t" style="left:1853.44px;top:971.90px;font-size:22px;color:#1a1a1a;transform:scaleX(0.9600);">-</span>
<span class="t" style="left:2007.09px;top:971.90px;font-size:22px;color:#1a1a1a;transform:scaleX(0.9600);">-</span>
<span class="t" style="left:2160.74px;top:971.90px;font-size:22px;color:#1a1a1a;transform:scaleX(0.9600);">-</span>
<span class="t" style="left:2314.39px;top:971.90px;font-size:22px;color:#1a1a1a;transform:scaleX(0.9600);">-</span>
<span class="t" style="left:2468.04px;top:971.90px;font-size:22px;color:#1a1a1a;transform:scaleX(0.9600);">-</span>
<div class="gc" style="left:663.5px;top:996.6px;width:155px;height:33.5px"></div>
<span class="t" style="left:216.52px;top:1003.80px;font-size:22px;color:#1a1a1a;transform:scaleX(0.9416);">IP Revenue Commercial Rate</span>
<span class="t" style="left:580.75px;top:1003.80px;font-size:22px;color:#1a1a1a;transform:scaleX(0.9600);">41000</span>
<span class="t" style="left:742.03px;top:1003.80px;font-size:22px;color:#868686;transform:scaleX(0.9600);">97,847</span>
<span class="t" style="left:895.68px;top:1003.80px;font-size:22px;color:#1a1a1a;transform:scaleX(0.9600);">64,579</span>
<span class="t" style="left:1049.33px;top:1003.80px;font-size:22px;color:#1a1a1a;transform:scaleX(0.9600);">18,836</span>
<span class="t" style="left:1191.23px;top:1003.80px;font-size:22px;color:#1a1a1a;transform:scaleX(0.9600);">244,618</span>
<span class="t" style="left:1356.63px;top:1003.80px;font-size:22px;color:#1a1a1a;transform:scaleX(0.9600);">18,836</span>
<span class="t" style="left:1510.28px;top:1003.80px;font-size:22px;color:#1a1a1a;transform:scaleX(0.9600);">68,493</span>
<span class="t" style="left:1652.18px;top:1003.80px;font-size:22px;color:#1a1a1a;transform:scaleX(0.9600);">130,463</span>
<span class="t" style="left:1805.83px;top:1003.80px;font-size:22px;color:#1a1a1a;transform:scaleX(0.9600);">489,236</span>
<span class="t" style="left:1959.48px;top:1003.80px;font-size:22px;color:#1a1a1a;transform:scaleX(0.9600);">195,694</span>
<span class="t" style="left:2124.88px;top:1003.80px;font-size:22px;color:#1a1a1a;transform:scaleX(0.9600);">71,755</span>
<span class="t" style="left:2278.53px;top:1003.80px;font-size:22px;color:#1a1a1a;transform:scaleX(0.9600);">97,847</span>
<span class="t" style="left:2432.18px;top:1003.80px;font-size:22px;color:#1a1a1a;transform:scaleX(0.9600);">18,836</span>
<span class="t" style="left:216.50px;top:1035.70px;font-size:22px;color:#1a1a1a;transform:scaleX(0.9481);">IP Revenue Medicaid Rate</span>
<span class="t" style="left:580.75px;top:1035.70px;font-size:22px;color:#1a1a1a;transform:scaleX(0.9600);">41000</span>
<span class="t" style="left:777.89px;top:1035.70px;font-size:22px;color:#1a1a1a;transform:scaleX(0.9600);">-</span>
<span class="t" style="left:931.54px;top:1035.70px;font-size:22px;color:#1a1a1a;transform:scaleX(0.9600);">-</span>
<span class="t" style="left:1085.19px;top:1035.70px;font-size:22px;color:#1a1a1a;transform:scaleX(0.9600);">-</span>
<span class="t" style="left:1238.84px;top:1035.70px;font-size:22px;color:#1a1a1a;transform:scaleX(0.9600);">-</span>
<span class="t" style="left:1392.49px;top:1035.70px;font-size:22px;color:#1a1a1a;transform:scaleX(0.9600);">-</span>
<span class="t" style="left:1546.14px;top:1035.70px;font-size:22px;color:#1a1a1a;transform:scaleX(0.9600);">-</span>
<span class="t" style="left:1699.79px;top:1035.70px;font-size:22px;color:#1a1a1a;transform:scaleX(0.9600);">-</span>
<span class="t" style="left:1853.44px;top:1035.70px;font-size:22px;color:#1a1a1a;transform:scaleX(0.9600);">-</span>
<span class="t" style="left:2007.09px;top:1035.70px;font-size:22px;color:#1a1a1a;transform:scaleX(0.9600);">-</span>
<span class="t" style="left:2160.74px;top:1035.70px;font-size:22px;color:#1a1a1a;transform:scaleX(0.9600);">-</span>
<span class="t" style="left:2314.39px;top:1035.70px;font-size:22px;color:#1a1a1a;transform:scaleX(0.9600);">-</span>
<span class="t" style="left:2468.04px;top:1035.70px;font-size:22px;color:#1a1a1a;transform:scaleX(0.9600);">-</span>
<div class="gc" style="left:663.5px;top:1060.5px;width:155px;height:33.5px"></div>
<span class="t" style="left:216.50px;top:1067.70px;font-size:22px;color:#1a1a1a;transform:scaleX(0.9481);">IP Revenue Medicaid Rate</span>
<span class="t" style="left:580.75px;top:1067.70px;font-size:22px;color:#1a1a1a;transform:scaleX(0.9600);">41000</span>
<span class="t" style="left:730.28px;top:1067.70px;font-size:22px;color:#868686;transform:scaleX(0.9600);">694,715</span>
<span class="t" style="left:883.93px;top:1067.70px;font-size:22px;color:#1a1a1a;transform:scaleX(0.9600);">509,458</span>
<span class="t" style="left:1037.58px;top:1067.70px;font-size:22px;color:#1a1a1a;transform:scaleX(0.9600);">133,733</span>
<span class="t" style="left:1173.62px;top:1067.70px;font-size:22px;color:#1a1a1a;transform:scaleX(0.9600);">1,736,788</span>
<span class="t" style="left:1344.88px;top:1067.70px;font-size:22px;color:#1a1a1a;transform:scaleX(0.9600);">133,733</span>
<span class="t" style="left:1498.53px;top:1067.70px;font-size:22px;color:#1a1a1a;transform:scaleX(0.9600);">486,301</span>
<span class="t" style="left:1652.18px;top:1067.70px;font-size:22px;color:#1a1a1a;transform:scaleX(0.9600);">926,287</span>
<span class="t" style="left:1788.22px;top:1067.70px;font-size:22px;color:#1a1a1a;transform:scaleX(0.9600);">3,473,577</span>
<span class="t" style="left:1941.87px;top:1067.70px;font-size:22px;color:#1a1a1a;transform:scaleX(0.9600);">1,389,431</span>
<span class="t" style="left:2113.13px;top:1067.70px;font-size:22px;color:#1a1a1a;transform:scaleX(0.9600);">509,458</span>
<span class="t" style="left:2266.78px;top:1067.70px;font-size:22px;color:#1a1a1a;transform:scaleX(0.9600);">694,715</span>
<span class="t" style="left:2420.43px;top:1067.70px;font-size:22px;color:#1a1a1a;transform:scaleX(0.9600);">133,733</span>
<span class="t" style="left:216.51px;top:1099.40px;font-size:22px;color:#1a1a1a;transform:scaleX(0.9465);">IP Revenue Medicare Rate</span>
<span class="t" style="left:580.75px;top:1099.40px;font-size:22px;color:#1a1a1a;transform:scaleX(0.9600);">41000</span>
<span class="t" style="left:777.89px;top:1099.40px;font-size:22px;color:#1a1a1a;transform:scaleX(0.9600);">-</span>
<span class="t" style="left:931.54px;top:1099.40px;font-size:22px;color:#1a1a1a;transform:scaleX(0.9600);">-</span>
<span class="t" style="left:1085.19px;top:1099.40px;font-size:22px;color:#1a1a1a;transform:scaleX(0.9600);">-</span>
<span class="t" style="left:1238.84px;top:1099.40px;font-size:22px;color:#1a1a1a;transform:scaleX(0.9600);">-</span>
<span class="t" style="left:1392.49px;top:1099.40px;font-size:22px;color:#1a1a1a;transform:scaleX(0.9600);">-</span>
<span class="t" style="left:1546.14px;top:1099.40px;font-size:22px;color:#1a1a1a;transform:scaleX(0.9600);">-</span>
<span class="t" style="left:1699.79px;top:1099.40px;font-size:22px;color:#1a1a1a;transform:scaleX(0.9600);">-</span>
<span class="t" style="left:1853.44px;top:1099.40px;font-size:22px;color:#1a1a1a;transform:scaleX(0.9600);">-</span>
<span class="t" style="left:2007.09px;top:1099.40px;font-size:22px;color:#1a1a1a;transform:scaleX(0.9600);">-</span>
<span class="t" style="left:2160.74px;top:1099.40px;font-size:22px;color:#1a1a1a;transform:scaleX(0.9600);">-</span>
<span class="t" style="left:2314.39px;top:1099.40px;font-size:22px;color:#1a1a1a;transform:scaleX(0.9600);">-</span>
<span class="t" style="left:2468.04px;top:1099.40px;font-size:22px;color:#1a1a1a;transform:scaleX(0.9600);">-</span>
<div class="gc" style="left:663.5px;top:1124.1px;width:155px;height:33.5px"></div>
<span class="t" style="left:216.51px;top:1131.30px;font-size:22px;color:#1a1a1a;transform:scaleX(0.9465);">IP Revenue Medicare Rate</span>
<span class="t" style="left:580.75px;top:1131.30px;font-size:22px;color:#1a1a1a;transform:scaleX(0.9600);">41000</span>
<span class="t" style="left:730.28px;top:1131.30px;font-size:22px;color:#868686;transform:scaleX(0.9600);">176,125</span>
<span class="t" style="left:883.93px;top:1131.30px;font-size:22px;color:#1a1a1a;transform:scaleX(0.9600);">129,158</span>
<span class="t" style="left:1049.33px;top:1131.30px;font-size:22px;color:#1a1a1a;transform:scaleX(0.9600);">33,904</span>
<span class="t" style="left:1191.23px;top:1131.30px;font-size:22px;color:#1a1a1a;transform:scaleX(0.9600);">440,313</span>
<span class="t" style="left:1356.63px;top:1131.30px;font-size:22px;color:#1a1a1a;transform:scaleX(0.9600);">33,904</span>
<span class="t" style="left:1498.53px;top:1131.30px;font-size:22px;color:#1a1a1a;transform:scaleX(0.9600);">123,288</span>
<span class="t" style="left:1652.18px;top:1131.30px;font-size:22px;color:#1a1a1a;transform:scaleX(0.9600);">234,833</span>
<span class="t" style="left:1805.83px;top:1131.30px;font-size:22px;color:#1a1a1a;transform:scaleX(0.9600);">880,625</span>
<span class="t" style="left:1959.48px;top:1131.30px;font-size:22px;color:#1a1a1a;transform:scaleX(0.9600);">352,250</span>
<span class="t" style="left:2113.13px;top:1131.30px;font-size:22px;color:#1a1a1a;transform:scaleX(0.9600);">129,158</span>
<span class="t" style="left:2266.78px;top:1131.30px;font-size:22px;color:#1a1a1a;transform:scaleX(0.9600);">176,125</span>
<span class="t" style="left:2432.18px;top:1131.30px;font-size:22px;color:#1a1a1a;transform:scaleX(0.9600);">33,904</span>
<span class="t" style="left:216.52px;top:1163.20px;font-size:22px;color:#1a1a1a;transform:scaleX(0.9408);">IP Revenue Other  Rate</span>
<span class="t" style="left:580.75px;top:1163.20px;font-size:22px;color:#1a1a1a;transform:scaleX(0.9600);">41000</span>
<span class="t" style="left:777.89px;top:1163.20px;font-size:22px;color:#1a1a1a;transform:scaleX(0.9600);">-</span>
<span class="t" style="left:931.54px;top:1163.20px;font-size:22px;color:#1a1a1a;transform:scaleX(0.9600);">-</span>
<span class="t" style="left:1085.19px;top:1163.20px;font-size:22px;color:#1a1a1a;transform:scaleX(0.9600);">-</span>
<span class="t" style="left:1238.84px;top:1163.20px;font-size:22px;color:#1a1a1a;transform:scaleX(0.9600);">-</span>
<span class="t" style="left:1392.49px;top:1163.20px;font-size:22px;color:#1a1a1a;transform:scaleX(0.9600);">-</span>
<span class="t" style="left:1546.14px;top:1163.20px;font-size:22px;color:#1a1a1a;transform:scaleX(0.9600);">-</span>
<span class="t" style="left:1699.79px;top:1163.20px;font-size:22px;color:#1a1a1a;transform:scaleX(0.9600);">-</span>
<span class="t" style="left:1853.44px;top:1163.20px;font-size:22px;color:#1a1a1a;transform:scaleX(0.9600);">-</span>
<span class="t" style="left:2007.09px;top:1163.20px;font-size:22px;color:#1a1a1a;transform:scaleX(0.9600);">-</span>
<span class="t" style="left:2160.74px;top:1163.20px;font-size:22px;color:#1a1a1a;transform:scaleX(0.9600);">-</span>
<span class="t" style="left:2314.39px;top:1163.20px;font-size:22px;color:#1a1a1a;transform:scaleX(0.9600);">-</span>
<span class="t" style="left:2468.04px;top:1163.20px;font-size:22px;color:#1a1a1a;transform:scaleX(0.9600);">-</span>
<div class="gc" style="left:663.5px;top:1187.8px;width:155px;height:33.5px"></div>
<span class="t" style="left:216.52px;top:1195.00px;font-size:22px;color:#1a1a1a;transform:scaleX(0.9408);">IP Revenue Other  Rate</span>
<span class="t" style="left:580.75px;top:1195.00px;font-size:22px;color:#1a1a1a;transform:scaleX(0.9600);">41000</span>
<span class="t" style="left:753.77px;top:1195.00px;font-size:22px;color:#868686;transform:scaleX(0.9600);">9,785</span>
<span class="t" style="left:907.42px;top:1195.00px;font-size:22px;color:#1a1a1a;transform:scaleX(0.9600);">7,175</span>
<span class="t" style="left:1061.07px;top:1195.00px;font-size:22px;color:#1a1a1a;transform:scaleX(0.9600);">1,884</span>
<span class="t" style="left:1202.98px;top:1195.00px;font-size:22px;color:#1a1a1a;transform:scaleX(0.9600);">24,462</span>
<span class="t" style="left:1368.37px;top:1195.00px;font-size:22px;color:#1a1a1a;transform:scaleX(0.9600);">1,884</span>
<span class="t" style="left:1522.02px;top:1195.00px;font-size:22px;color:#1a1a1a;transform:scaleX(0.9600);">6,849</span>
<span class="t" style="left:1663.93px;top:1195.00px;font-size:22px;color:#1a1a1a;transform:scaleX(0.9600);">13,046</span>
<span class="t" style="left:1817.58px;top:1195.00px;font-size:22px;color:#1a1a1a;transform:scaleX(0.9600);">48,924</span>
<span class="t" style="left:1971.23px;top:1195.00px;font-size:22px;color:#1a1a1a;transform:scaleX(0.9600);">19,569</span>
<span class="t" style="left:2136.62px;top:1195.00px;font-size:22px;color:#1a1a1a;transform:scaleX(0.9600);">7,175</span>
<span class="t" style="left:2290.27px;top:1195.00px;font-size:22px;color:#1a1a1a;transform:scaleX(0.9600);">9,785</span>
<span class="t" style="left:2443.92px;top:1195.00px;font-size:22px;color:#1a1a1a;transform:scaleX(0.9600);">1,884</span>
<span class="t" style="left:217.79px;top:1226.90px;font-size:22px;color:#1a1a1a;font-style:italic;transform:scaleX(0.9551);">Total Inpatient (IP) Revenue</span>
<span class="t" style="left:580.75px;top:1226.90px;font-size:22px;color:#1a1a1a;transform:scaleX(0.9600);">41000</span>
<span class="t" style="left:730.28px;top:1226.90px;font-size:22px;color:#1a1a1a;font-style:italic;transform:scaleX(0.9600);">978,472</span>
<span class="t" style="left:884.89px;top:1226.90px;font-size:22px;color:#1a1a1a;font-style:italic;transform:scaleX(0.9600);">710,371</span>
<span class="t" style="left:1036.62px;top:1226.90px;font-size:22px;color:#1a1a1a;font-style:italic;transform:scaleX(0.9600);">188,356</span>
<span class="t" style="left:1174.58px;top:1226.90px;font-size:22px;color:#1a1a1a;font-style:italic;transform:scaleX(0.9600);">2,446,181</span>
<span class="t" style="left:1343.92px;top:1226.90px;font-size:22px;color:#1a1a1a;font-style:italic;transform:scaleX(0.9600);">188,356</span>
<span class="t" style="left:1499.49px;top:1226.90px;font-size:22px;color:#1a1a1a;font-style:italic;transform:scaleX(0.9600);">684,931</span>
<span class="t" style="left:1633.61px;top:1226.90px;font-size:22px;color:#1a1a1a;font-style:italic;transform:scaleX(0.9600);">1,304,630</span>
<span class="t" style="left:1789.18px;top:1226.90px;font-size:22px;color:#1a1a1a;font-style:italic;transform:scaleX(0.9600);">4,892,361</span>
<span class="t" style="left:1940.91px;top:1226.90px;font-size:22px;color:#1a1a1a;font-style:italic;transform:scaleX(0.9600);">1,956,945</span>
<span class="t" style="left:2112.17px;top:1226.90px;font-size:22px;color:#1a1a1a;font-style:italic;transform:scaleX(0.9600);">717,546</span>
<span class="t" style="left:2266.78px;top:1226.90px;font-size:22px;color:#1a1a1a;font-style:italic;transform:scaleX(0.9600);">978,472</span>
<span class="t" style="left:2419.47px;top:1226.90px;font-size:22px;color:#1a1a1a;font-style:italic;transform:scaleX(0.9600);">188,356</span>
<span class="t" style="left:217.79px;top:1286.80px;font-size:22px;color:#1a1a1a;font-style:italic;transform:scaleX(0.9642);">Outpatient Revenue</span>
<div class="a" style="left:665px;top:1221.2px;width:1900px;height:1.7px;background:#262626;"></div></div></div>
<svg style="left:0;top:0" width="2560" height="1438" viewBox="0 0 2560 1438" ><path d="M122.9 112.4 L127.1 117.2 L122.9 122 M128.4 112.4 L132.6 117.2 L128.4 122" fill="none" stroke="#4a4a4a" stroke-width="1.5"/></svg>
<div class="a" style="left:109.4px;top:311.6px;width:170px;height:34px;transform:rotate(-90deg);transform-origin:0 0;"><span class="t" style="left:-1.98px;top:0.00px;font-size:33px;color:#6c6c6c;transform:scaleX(0.9889);">Parameters</span></div>
<svg style="left:0;top:0" width="2560" height="1438" viewBox="0 0 2560 1438" ><path d="M112.6 341.8 C112.6 338.4 138 338.4 138 341.8 C138 343.6 134.4 345.4 128.2 351 V360.2 L122.6 359 V351 C116.2 345.4 112.6 343.6 112.6 341.8Z" fill="#444"/><ellipse cx="125.3" cy="341.4" rx="11.6" ry="1.7" fill="#bdbdbd"/></svg>
<div id="top" class="a"></div>
<svg style="left:0;top:0" width="2560" height="1438" viewBox="0 0 2560 1438" ><rect x="116" y="23.150000000000002" width="16" height="2.3" fill="#111"/><rect x="116" y="29.25" width="16" height="2.3" fill="#111"/><rect x="116" y="35.35" width="16" height="2.3" fill="#111"/></svg>
<span class="t" style="left:169.90px;top:19.60px;font-size:26px;color:#7d8287;transform:scaleX(1.0516);">Budgeting</span>
<span class="t" style="left:311.57px;top:23.40px;font-size:21px;color:#2e7cc2;transform:scaleX(1.0273);-webkit-text-stroke:0.4px #2e7cc2;">&gt;</span>
<span class="t" style="left:343.06px;top:19.60px;font-size:26px;color:#7d8287;transform:scaleX(0.9698);">F02. Revenue</span>
<svg style="left:0;top:0" width="2560" height="1438" viewBox="0 0 2560 1438" ><circle cx="1840.9" cy="19.9" r="1.7" fill="none" stroke="#0c0c0c" stroke-width="1.5"/><path d="M1840.9 21.2 C1845.6 21.2 1847.4 25 1847.6 29 C1847.8 33 1848.6 35.6 1850.9 37.4 V39 H1830.9 V37.4 C1833.2 35.6 1834 33 1834.2 29 C1834.4 25 1836.2 21.2 1840.9 21.2Z" fill="#0c0c0c"/><path d="M1838.3 39 H1843.5 C1843.5 42.9 1838.3 42.9 1838.3 39Z" fill="#0c0c0c"/><path d="M1835.9 35.8 C1836.6 33.4 1836.6 30.6 1836.9 28 C1837.3 25.6 1838.8 24.5 1840.9 24.5" fill="none" stroke="#fff" stroke-width="1" stroke-linecap="round"/><path d="M1838.9 40 H1842.9" stroke="#fff" stroke-width="0.5"/></svg>
<span class="t" style="left:1860.93px;top:23.00px;font-size:19.5px;color:#868686;transform:scaleX(1.0667);">Notifications</span>
<svg style="left:0;top:0" width="2560" height="1438" viewBox="0 0 2560 1438" ><path d="M1983.6 32.2 L1989.1 37.8 L1994.6 32.2" fill="none" stroke="#bcbcbc" stroke-width="2.8" stroke-linejoin="miter"/></svg>
<svg style="left:0;top:0" width="2560" height="1438" viewBox="0 0 2560 1438" ><circle cx="2043.8" cy="29.7" r="10.8" fill="none" stroke="#111" stroke-width="2.4"/><ellipse cx="2039.8999999999999" cy="26.5" rx="1.5" ry="2.1" fill="#111"/><ellipse cx="2047.7" cy="26.5" rx="1.5" ry="2.1" fill="#111"/><path d="M2037.6 32.3 C2039.8 37.9 2047.8 37.9 2050.0 32.3" fill="none" stroke="#111" stroke-width="2.1" stroke-linecap="round"/></svg>
<span class="t" style="left:2064.30px;top:23.00px;font-size:19.5px;color:#868686;transform:scaleX(1.0049);">Feedback</span>
<svg style="left:0;top:0" width="2560" height="1438" viewBox="0 0 2560 1438" ><circle cx="2196.6" cy="29.7" r="10.8" fill="none" stroke="#111" stroke-width="2.4"/><path d="M2192.4 26.9 C2192.4 21.7 2201.0 21.7 2201.0 26.5 C2201.0 29.5 2196.6 29.9 2196.6 32.7" fill="none" stroke="#111" stroke-width="2.9"/><rect x="2195.1" y="34.1" width="3" height="2.9" fill="#111"/></svg>
<span class="t" style="left:2217.48px;top:23.00px;font-size:19.5px;color:#868686;transform:scaleX(1.0189);">Help</span>
<div class="a" style="left:2291px;top:16px;width:1px;height:32px;background:#d6d6d6;"></div>
<svg style="left:0;top:0" width="2560" height="1438" viewBox="0 0 2560 1438" ><ellipse cx="2338.2" cy="25.9" rx="7.1" ry="7" fill="#0c0c0c"/><path d="M2329 41.6 C2328.4 34.8 2333 32.2 2338.4 33.6 C2343.8 32.2 2348.4 34.8 2347.8 41.6 C2342 43 2335 43 2329 41.6Z" fill="#0c0c0c"/><path d="M2333.2 32.5 C2336.5 34.4 2340.3 34.4 2343.6 32.5" fill="none" stroke="#fff" stroke-width="0.8"/></svg>
<span class="t" style="left:2353.66px;top:11.60px;font-size:22.5px;color:#7a7a7a;transform:scaleX(1.0365);">Nils Rasmussen</span>
<span class="t" style="left:2353.50px;top:38.50px;font-size:17.5px;color:#bcbcbc;transform:scaleX(0.8864);">05.</span>
<span class="t" style="left:2380.64px;top:38.50px;font-size:17.5px;color:#bcbcbc;transform:scaleX(0.7636);">H</span>
<span class="t" style="left:2391.83px;top:42.50px;font-size:12.6px;color:#bcbcbc;transform:scaleX(0.8697);">EALTHCARE</span>
<span class="t" style="left:2462.15px;top:38.50px;font-size:17.5px;color:#bcbcbc;transform:scaleX(0.8455);">D</span>
<span class="t" style="left:2474.40px;top:42.50px;font-size:12.6px;color:#bcbcbc;transform:scaleX(0.8031);">EMO</span>
<svg style="left:0;top:0" width="2560" height="1438" viewBox="0 0 2560 1438" ><path d="M2536.6 31.2 L2541.7 36.6 L2546.8 31.2" fill="none" stroke="#cacaca" stroke-width="2.8" stroke-linejoin="miter"/></svg>
<div id="side" class="a"></div>
<div class="a" style="left:6px;top:431px;width:90px;height:85px;background:#3c4856;"></div>
<div class="a sdiv" style="top:85px"></div>
<div class="a sdiv" style="top:171px"></div>
<div class="a sdiv" style="top:257px"></div>
<div class="a sdiv" style="top:344px"></div>
<div class="a sdiv" style="top:430px"></div>
<div class="a sdiv" style="top:516px"></div>
<div class="a sdiv" style="top:602px"></div>
<div class="a sdiv" style="top:688px"></div>
<div class="a sdiv" style="top:775px"></div>
<div class="a sdiv" style="top:861px"></div>
<svg style="left:0;top:0" width="2560" height="1438" viewBox="0 0 2560 1438" ><path d="M20.5 46.5 C32 41.5 44 35.5 57.5 29.5 L49.5 49.5 C42 44.5 31 44.5 20.5 46.5Z" fill="#1f72c4"/><path d="M59.3 30.2 L77.5 51 C68.5 47.3 58.5 47.5 50.5 50.2 Z" fill="#9acd3c"/></svg>
<svg style="left:0;top:0" width="2560" height="1438" viewBox="0 0 2560 1438" ><path d="M34.1 147.4 V130.5 L49.2 116.8 L64 130.5 V147.4 H57.7 V132.8 H48.8 V147.4 Z" fill="#fff"/><rect x="37.3" y="132.8" width="8.9" height="5.4" fill="#303844"/><path d="M31.2 128.9 L49.2 112.4 L67.2 128.9" fill="none" stroke="#4a86c6" stroke-width="5" stroke-linecap="round" stroke-linejoin="miter"/></svg>
<svg style="left:0;top:0" width="2560" height="1438" viewBox="0 0 2560 1438" ><rect x="29" y="198" width="11.3" height="36" rx="1" fill="#fff"/><rect x="30.6" y="201.2" width="8.100000000000001" height="14.8" fill="#303844"/><rect x="30.6" y="201.2" width="8.100000000000001" height="4" fill="#4a86c6"/><circle cx="34.65" cy="226.4" r="2.7" fill="#303844"/><rect x="40.7" y="198" width="11.3" height="36" rx="1" fill="#fff"/><rect x="42.300000000000004" y="201.2" width="8.100000000000001" height="14.8" fill="#303844"/><rect x="42.300000000000004" y="201.2" width="8.100000000000001" height="4" fill="#4a86c6"/><circle cx="46.35" cy="226.4" r="2.7" fill="#303844"/><g transform="rotate(-12.5 62 216)"><rect x="56.4" y="198.2" width="11" height="35.5" rx="1" fill="#fff"/><rect x="58.0" y="201.39999999999998" width="7.8" height="14.8" fill="#303844"/><rect x="58.0" y="201.39999999999998" width="7.8" height="4" fill="#4a86c6"/><circle cx="61.9" cy="226.6" r="2.7" fill="#303844"/></g></svg>
<svg style="left:0;top:0" width="2560" height="1438" viewBox="0 0 2560 1438" ><rect x="35.9" y="286.3" width="26.6" height="31.9" rx="2.5" fill="#303844" stroke="#fff" stroke-width="3"/><circle cx="49.1" cy="280.6" r="3.3" fill="#fff"/><rect x="38.9" y="279.3" width="20.3" height="10" rx="5" fill="#fff"/><rect x="41.2" y="283.3" width="15.7" height="4.6" rx="2.3" fill="#303844"/><rect x="42.4" y="284.6" width="13.3" height="2.2" rx="1.1" fill="#d9dbdd"/><circle cx="49.1" cy="280.3" r="0.9" fill="#303844"/><path d="M43.2 298.3 L47.4 301.6 L56.3 293.2" fill="none" stroke="#4a86c6" stroke-width="3.6"/><path d="M43.2 310 L47.4 313.3 L56.3 304.9" fill="none" stroke="#4a86c6" stroke-width="3.6"/></svg>
<svg style="left:0;top:0" width="2560" height="1438" viewBox="0 0 2560 1438" ><rect x="33.4" y="366.8" width="31.5" height="38.2" fill="none" stroke="#fff" stroke-width="3.3"/><rect x="37.3" y="371.2" width="23.7" height="5.8" fill="#fff"/><path d="M41.5 381.8 L56.3 390 L41.5 398.4Z" fill="#4a86c6"/></svg>
<svg style="left:0;top:0" width="2560" height="1438" viewBox="0 0 2560 1438" ><rect x="34.4" y="451.9" width="29.6" height="40.8" rx="2.6" fill="#fff"/><rect x="37.7" y="455.4" width="22.9" height="7.1" rx="1.6" fill="#4a86c6"/><circle cx="41.7" cy="470.8" r="2.75" fill="#3c4856"/><circle cx="41.7" cy="477.9" r="2.75" fill="#3c4856"/><circle cx="41.7" cy="485" r="2.75" fill="#3c4856"/><circle cx="49.2" cy="470.8" r="2.75" fill="#3c4856"/><circle cx="49.2" cy="477.9" r="2.75" fill="#3c4856"/><circle cx="49.2" cy="485" r="2.75" fill="#3c4856"/><circle cx="56.6" cy="470.8" r="2.75" fill="#3c4856"/><circle cx="56.6" cy="477.9" r="2.75" fill="#3c4856"/><circle cx="56.6" cy="485" r="2.75" fill="#3c4856"/></svg>
<svg style="left:0;top:0" width="2560" height="1438" viewBox="0 0 2560 1438" ><circle cx="49.2" cy="558.3" r="16.3" fill="none" stroke="#3d73ac" stroke-width="2.8"/><path d="M30.2 550 H39.5 L43.8 554.3 V566.9 H30.2 Z" fill="#303844" stroke="#fff" stroke-width="2.5" stroke-linejoin="miter"/><path d="M39.3 550 V554.5 H43.8" fill="none" stroke="#fff" stroke-width="1.8"/><circle cx="62" cy="553.2" r="7.4" fill="#303844"/><path d="M53 569.5 C53 557.4 71 557.4 71 569.5Z" fill="#303844"/><circle cx="62" cy="553.2" r="5.4" fill="#fff"/><path d="M54.9 567.7 C54.9 557.8 69.1 557.8 69.1 567.7 C65.5 568.5 58.5 568.5 54.9 567.7Z" fill="#fff"/></svg>
<svg style="left:0;top:0" width="2560" height="1438" viewBox="0 0 2560 1438" ><rect x="43" y="626.3" width="12.1" height="8.2" rx="1.5" fill="none" stroke="#fff" stroke-width="3"/><rect x="43" y="641.3" width="12.1" height="8.2" rx="1.5" fill="none" stroke="#fff" stroke-width="3"/><rect x="43" y="656" width="12.1" height="8.2" rx="1.5" fill="none" stroke="#fff" stroke-width="3"/><path d="M38 635.6 C33.5 634 31.3 637.5 33 640.3 C34 641.8 36 642 37.2 641.6" fill="none" stroke="#3f77b2" stroke-width="1.9"/><path d="M36 638.6 L40 641.6 L36.2 644.2Z" fill="#3f77b2"/><path d="M60.3 650.4 C64.8 648.8 67 652.3 65.3 655.1 C64.3 656.6 62.3 656.8 61.1 656.4" fill="none" stroke="#3f77b2" stroke-width="1.9"/><path d="M62.3 653.4 L58.3 656.4 L62.1 659Z" fill="#3f77b2"/></svg>
<svg style="left:0;top:0" width="2560" height="1438" viewBox="0 0 2560 1438" ><rect x="32.2" y="739.1" width="16.4" height="7.3" rx="2.3" fill="#4a86c6" transform="rotate(-36 40.4 742.75)"/><path d="M50 715.4 C51 714.3 52.2 713.8 53.4 713.8 C56 713.4 58.4 714.4 60 715.9 L64.2 720 L65.9 721.7 L70.5 725.4 L66.3 731.3 L62.1 728 L60 726.7 L55.5 731 L51.7 727.1 L54.6 722.5 C55.4 721 55.4 719.4 55 718.4 C53.6 717 51.8 716 50 715.4Z" fill="#fff"/><path d="M37.5 712.5 C38.2 711.5 39 711.5 39.6 711.7 C42.5 712.2 45.2 713.4 46.7 715 C48.3 716.4 49 718 49.2 719.6 C49.8 721.5 50 723.4 50 725 L63.6 738.9 C65.8 741.2 65.9 745 63.7 747.6 C61.4 750.1 57.6 750.3 55.2 748 L43.4 733.4 C41.5 733.6 39.7 733.6 37.9 733.4 C36 733.2 34.1 732.6 32.5 731.7 C29.6 729.7 27.8 726.4 27.5 723.4 C27.4 722.3 28.2 721.7 29 722.1 L33.8 726.7 C35.8 726.9 38 726.2 40 725 C41.6 723.6 42.6 721.6 42.5 719.6 L37.9 713.8 C37.4 713.3 37.3 712.9 37.5 712.5Z" fill="#fff" stroke="#303844" stroke-width="3.6"/><path d="M37.5 712.5 C38.2 711.5 39 711.5 39.6 711.7 C42.5 712.2 45.2 713.4 46.7 715 C48.3 716.4 49 718 49.2 719.6 C49.8 721.5 50 723.4 50 725 L63.6 738.9 C65.8 741.2 65.9 745 63.7 747.6 C61.4 750.1 57.6 750.3 55.2 748 L43.4 733.4 C41.5 733.6 39.7 733.6 37.9 733.4 C36 733.2 34.1 732.6 32.5 731.7 C29.6 729.7 27.8 726.4 27.5 723.4 C27.4 722.3 28.2 721.7 29 722.1 L33.8 726.7 C35.8 726.9 38 726.2 40 725 C41.6 723.6 42.6 721.6 42.5 719.6 L37.9 713.8 C37.4 713.3 37.3 712.9 37.5 712.5Z" fill="#fff"/><circle cx="59.5" cy="743.4" r="2.4" fill="#303844"/></svg>
<svg style="left:0;top:0" width="2560" height="1438" viewBox="0 0 2560 1438" ><path d="M52.34 831.56 L51.50 836.56 L46.90 836.56 L46.06 831.56 L42.44 830.24 L38.58 833.53 L35.06 830.58 L37.63 826.21 L35.70 822.86 L30.63 822.91 L29.83 818.38 L34.61 816.69 L35.28 812.89 L31.37 809.66 L33.67 805.68 L38.42 807.46 L41.38 804.97 L40.45 799.98 L44.77 798.41 L47.27 802.83 L51.13 802.83 L53.63 798.41 L57.95 799.98 L57.02 804.97 L59.98 807.46 L64.73 805.68 L67.03 809.66 L63.12 812.89 L63.79 816.69 L68.57 818.38 L67.77 822.91 L62.70 822.86 L60.77 826.21 L63.34 830.58 L59.82 833.53 L55.96 830.24Z" fill="#fff" stroke="#fff" stroke-width="1.8" stroke-linejoin="round"/><circle cx="49.2" cy="817.3" r="8.7" fill="#303844"/></svg>
</div></div></body></html>
